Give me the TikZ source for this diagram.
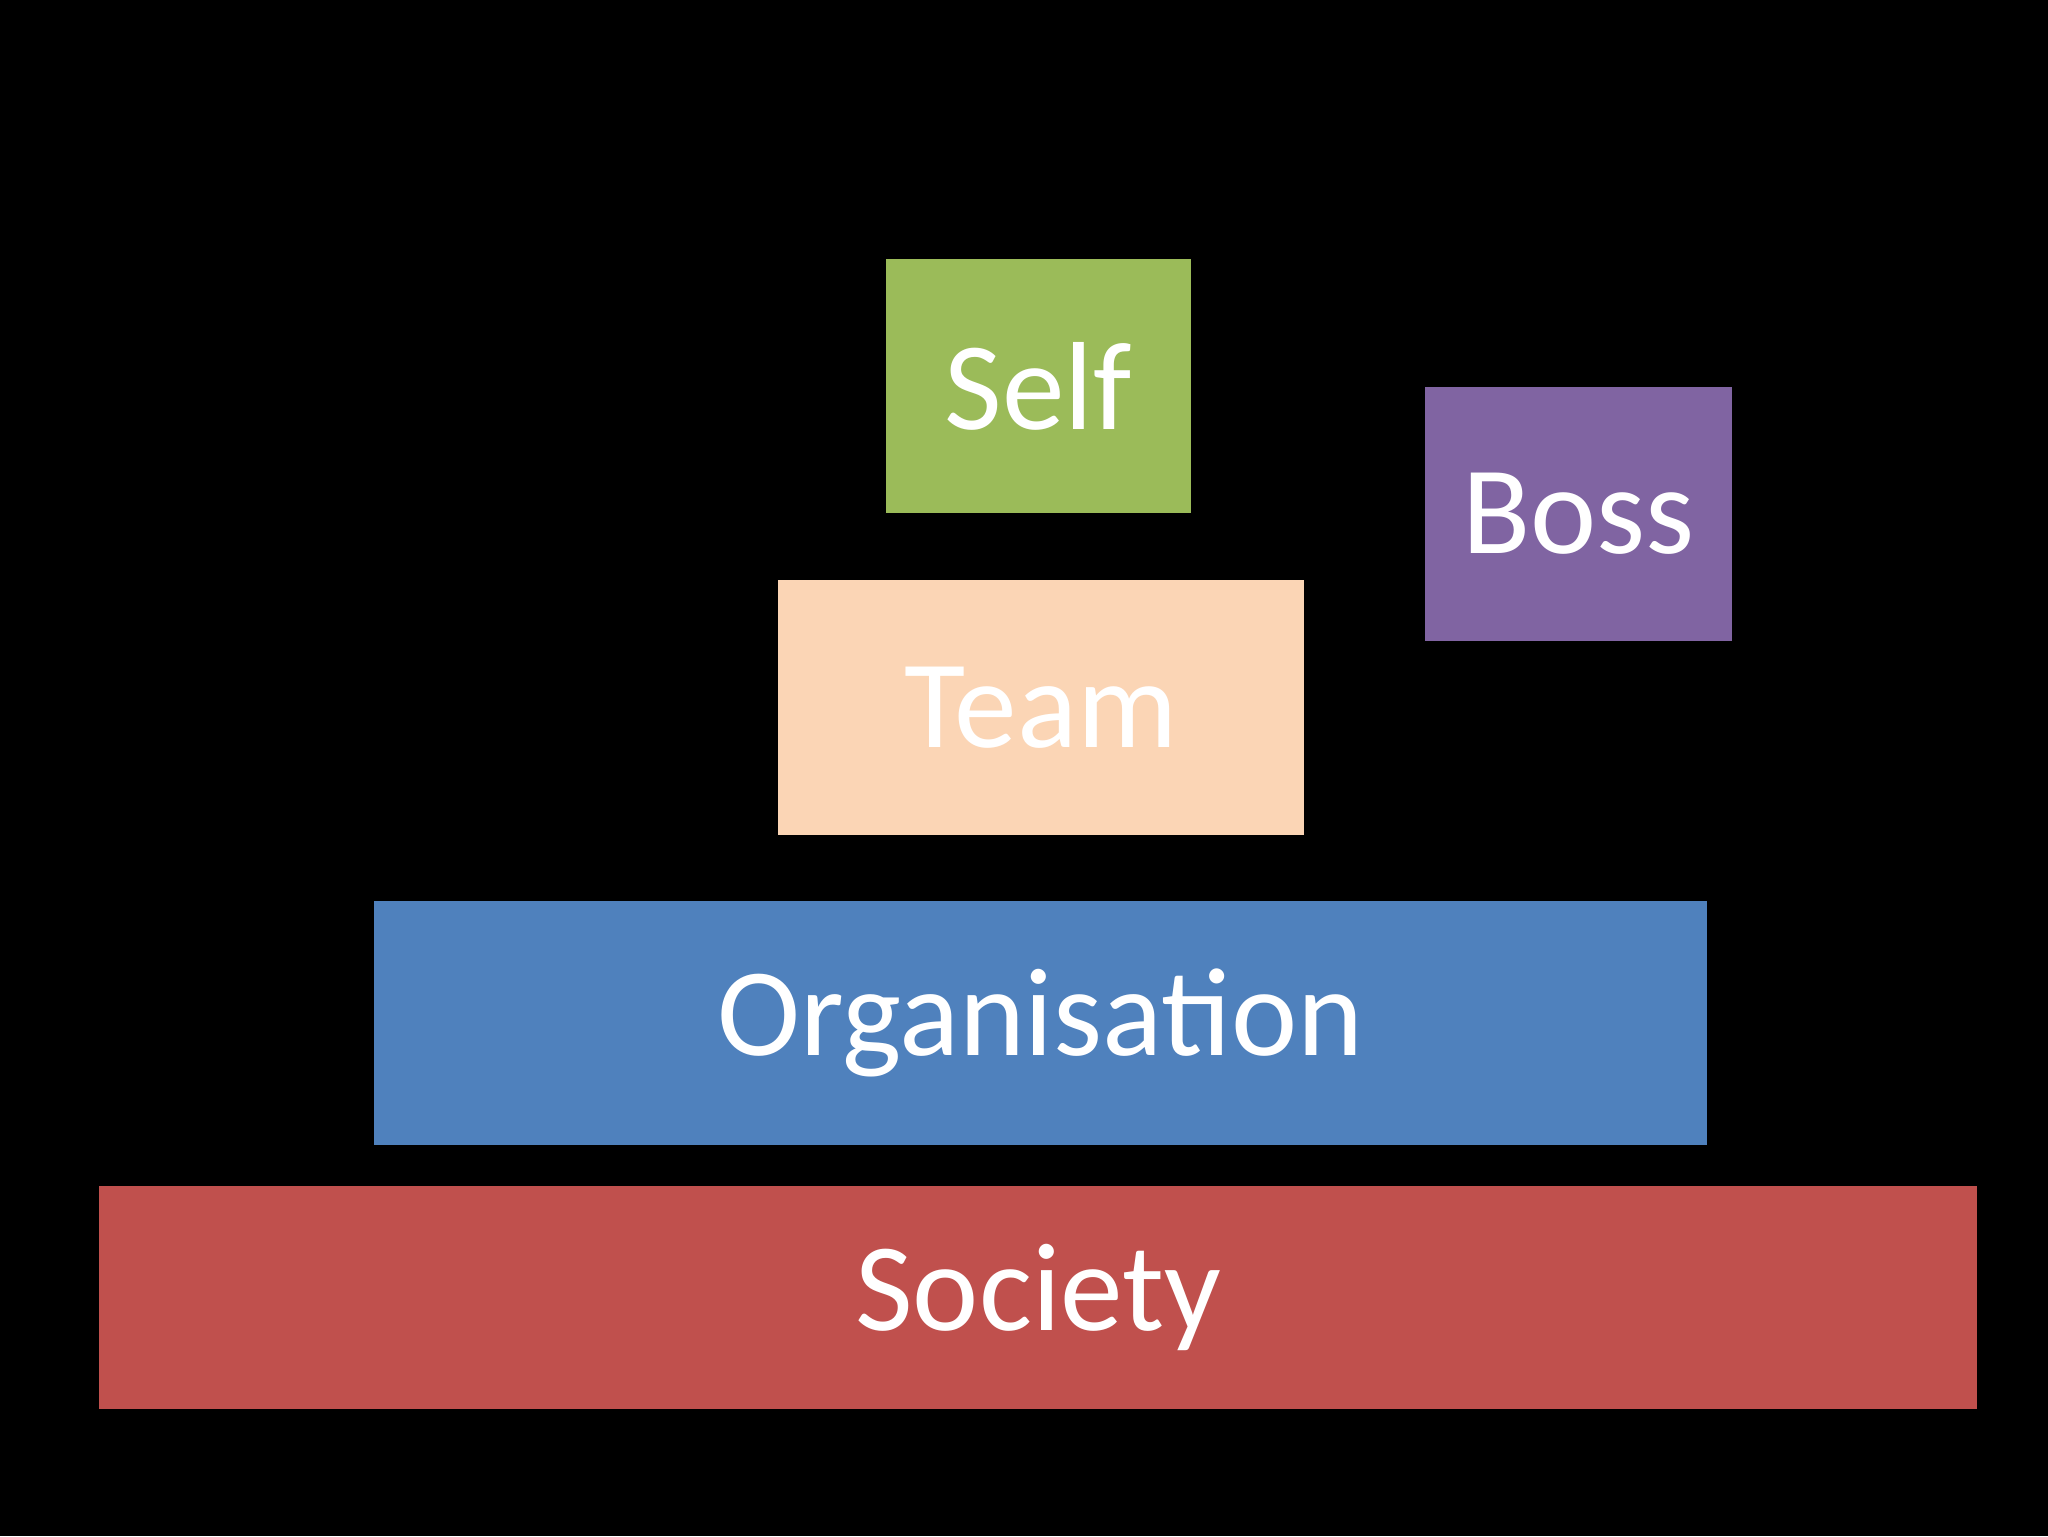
\documentclass[tikz,border=0pt]{standalone}
\usepackage{fontspec}
\setmainfont{Carlito}
\definecolor{cgreen}{HTML}{9BBB59}
\definecolor{cpurple}{HTML}{8064A2}
\definecolor{cpeach}{HTML}{FBD5B5}
\definecolor{cblue}{HTML}{4F81BD}
\definecolor{cred}{HTML}{C0504D}
\begin{document}
\begin{tikzpicture}[x=1pt,y=-1pt,
  blk/.style={inner sep=0pt, text=white, font=\fontsize{96}{96}\selectfont}]
\fill[black] (0,0) rectangle (1568,1176);
\useasboundingbox (0,0) rectangle (1568,1176);
\fill[cgreen] (678,198) rectangle (912,393);
\node[blk] (self) at (795,295.5) {Self};
\fill[cpurple] (1091,296) rectangle (1326,491);
\node[blk] (boss) at (1208.5,393.5) {Boss};
\fill[cpeach] (596,444) rectangle (998,639);
\node[blk] (team) at (797,541.5) {Team};
\fill[cblue] (286,690) rectangle (1307,877);
\node[blk] (org) at (796.5,783.5) {Organisation};
\fill[cred] (76,908) rectangle (1514,1079);
\node[blk] (soc) at (795,993.5) {Society};
\end{tikzpicture}
\end{document}
